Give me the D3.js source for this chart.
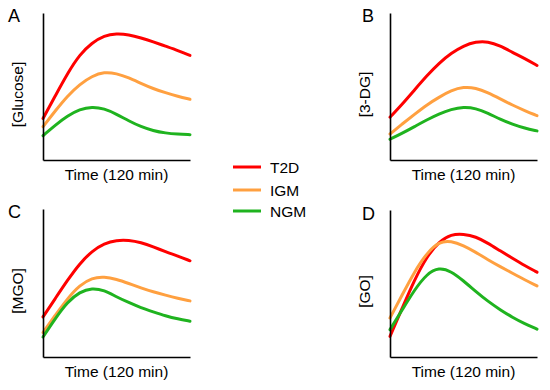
<!DOCTYPE html>
<html><head><meta charset="utf-8">
<script src="https://cdn.jsdelivr.net/npm/d3@7"></script>
<style>body{margin:0;background:#fff}</style>
</head><body>
<svg id="c" width="550" height="390"></svg>
<script>
const times = [0,10,20,30,40,50,60,70,80,90,100,110,120];
const seriesNames = ["T2D","IGM","NGM"];
const seriesColors = ["#ff0000","#ffa040","#1fb31f"];
const panelLetters = ["A","B","C","D"];
const yLabels = ["[Glucose]","[3-DG]","[MGO]","[GO]"];
const xLabel = "Time (120 min)";

const glucoseT2D = [28.2,43.6,58.9,71.8,79.7,84.7,86.0,85.3,83.1,80.4,77.4,74.5,71.1];
const glucoseIGM = [22.6,33.4,43.6,51.5,57.1,60.0,58.9,56.0,52.1,48.5,45.8,43.3,41.3];
const glucoseNGM = [16.5,23.7,30.0,34.5,36.3,35.0,31.2,26.6,22.6,19.9,18.3,17.6,17.2];

const dgT2D = [29.1,38.0,47.7,57.3,65.9,72.7,77.7,80.5,80.7,77.7,73.2,69.1,64.3];
const dgIGM = [17.7,24.5,31.1,37.5,42.7,47.3,49.8,49.1,45.9,41.6,37.3,33.6,30.2];
const dgNGM = [14.1,18.2,22.7,27.3,31.4,34.5,36.1,35.2,31.8,27.7,24.3,21.6,19.8];

const mgoT2D = [27.1,39.5,51.9,63.2,71.6,76.7,79.0,79.0,77.4,74.5,71.1,68.2,65.0];
const mgoIGM = [16.5,28.2,39.5,48.5,53.5,54.2,52.6,49.7,46.7,44.0,41.8,39.7,37.9];
const mgoNGM = [13.5,26.0,37.2,44.0,46.7,45.1,40.6,36.8,33.2,30.5,27.8,25.7,24.2];

const goT2D = [14.0,33.3,52.5,68.3,78.5,83.5,83.7,81.9,77.4,72.2,67.2,62.2,57.7];
const goIGM = [26.5,42.3,58.1,70.6,78.5,79.0,75.8,71.3,66.1,61.5,57.0,52.5,48.4];
const goNGM = [18.6,32.1,45.7,56.5,61.0,58.3,51.8,44.6,37.8,32.1,26.9,22.6,19.0];

const panelData = [
  [glucoseT2D, glucoseIGM, glucoseNGM],
  [dgT2D, dgIGM, dgNGM],
  [mgoT2D, mgoIGM, mgoNGM],
  [goT2D, goIGM, goNGM]
];

// layout
const panels = [
  {x0:43, x1:190, y0:13, y1:160, lx:8, ly:22, ylx:23},
  {x0:390, x1:537, y0:13, y1:160, lx:362, ly:22, ylx:370},
  {x0:43, x1:190, y0:209, y1:357, lx:8, ly:218, ylx:23},
  {x0:390, x1:537, y0:210, y1:357, lx:362, ly:220, ylx:370}
];

const svg = d3.select("#c");
const font = "'Liberation Sans', Arial, sans-serif";

panels.forEach((p, i) => {
  const x = d3.scaleLinear().domain([0,120]).range([p.x0, p.x1]);
  const y = d3.scaleLinear().domain([0,100]).range([p.y1, p.y0]);
  const g = svg.append("g");

  const line = d3.line().x((d,j)=>x(times[j])).y(d=>y(d)).curve(d3.curveBasis);
  panelData[i].forEach((vals, k) => {
    g.append("path").datum(vals).attr("d", line)
      .attr("fill","none").attr("stroke", seriesColors[k])
      .attr("stroke-width", 3).attr("stroke-linecap","round").attr("stroke-linejoin","round");
  });

  const ax = g.append("g").attr("transform",`translate(0,${p.y1})`)
    .call(d3.axisBottom(x).tickValues([]).tickSizeOuter(0));
  const ay = g.append("g").attr("transform",`translate(${p.x0},0)`)
    .call(d3.axisLeft(y).tickValues([]).tickSizeOuter(0));
  [ax, ay].forEach(a => a.select(".domain").attr("stroke","#000").attr("stroke-width",1.6));

  g.append("text").attr("x", p.lx).attr("y", p.ly)
    .attr("font-family", font).attr("font-size", 18).text(panelLetters[i]);

  g.append("text").attr("x",(p.x0+p.x1)/2).attr("y", p.y1+20)
    .attr("text-anchor","middle").attr("font-family",font).attr("font-size",15.5)
    .text(xLabel);

  g.append("text")
    .attr("transform",`translate(${p.ylx},${(p.y0+p.y1)/2+8}) rotate(-90)`)
    .attr("text-anchor","middle").attr("font-family",font).attr("font-size",15.5)
    .text(yLabels[i]);
});

// legend
const legend = svg.append("g");
const legendY = [167, 190, 211];
seriesNames.forEach((n, k) => {
  legend.append("line").attr("x1",233).attr("x2",261)
    .attr("y1",legendY[k]).attr("y2",legendY[k])
    .attr("stroke",seriesColors[k]).attr("stroke-width",3);
  legend.append("text").attr("x",270).attr("y",legendY[k]+6)
    .attr("font-family",font).attr("font-size",15.5).text(n);
});
</script>
</body></html>
